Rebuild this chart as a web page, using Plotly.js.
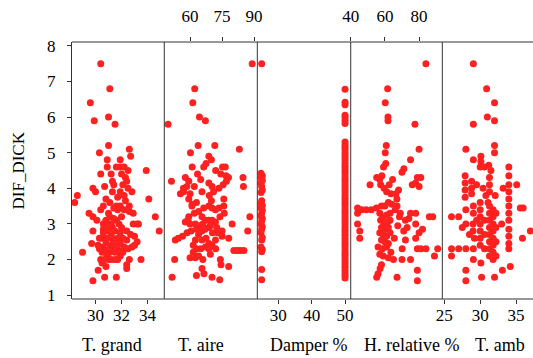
<!DOCTYPE html>
<html><head><meta charset="utf-8">
<script src="https://cdn.plot.ly/plotly-3.0.1.min.js"></script>
<style>html,body{margin:0;padding:0;background:#fff;}#chart{width:533px;height:358px;}</style>
</head><body><div id="chart"></div>
<script>
// DIF_DICK vs T. grand
var tgX = [30.4,31.1,29.6,29.9,31.0,31.5,31.0,32.6,30.3,32.7,30.9,31.9,30.9,31.6,31.9,32.2,32.5,33.9,30.4,31.2,32.0,32.3,31.3,32.4,32.1,30.7,29.8,32.5,30.0,31.3,31.9,32.8,32.2,28.6,34.1,30.8,31.1,28.4,30.6,31.6,31.9,32.6,30.4,31.7,32.2,32.6,29.5,31.0,32.9,34.6,29.8,31.1,31.4,30.1,31.2,31.8,32.9,33.2,33.3,30.9,31.3,30.6,29.8,31.0,31.5,32.4,34.9,30.6,31.2,32.7,33.0,30.5,30.9,31.3,31.7,32.1,33.2,29.7,30.8,31.4,31.9,33.0,30.2,30.6,31.1,31.6,32.2,32.8,30.3,30.8,31.3,31.8,32.5,29.0,30.5,31.1,32.1,30.4,30.7,31.0,31.2,31.5,31.7,32.6,33.5,30.5,30.8,30.2,32.4,32.4,30.7,31.6,29.8,31.4,31.7,32.3,31.4,30.8,31.6,32.0,31.9,30.3,32.4,31.5,31.9,30.9,32.0,30.6];
var tgY = [7.5,6.8,6.4,5.9,6.0,5.8,5.2,5.1,5.0,4.9,4.8,4.8,4.6,4.6,4.6,4.6,4.5,4.5,4.4,4.4,4.4,4.3,4.2,4.2,4.1,4.05,4.0,4.0,3.9,3.9,3.9,3.9,3.8,3.8,3.7,3.7,3.6,3.6,3.5,3.5,3.5,3.5,3.4,3.4,3.4,3.35,3.3,3.3,3.3,3.2,3.2,3.2,3.15,3.1,3.0,3.0,3.0,3.0,3.0,2.95,2.9,2.85,2.8,2.8,2.8,2.8,2.8,2.75,2.7,2.7,2.65,2.6,2.6,2.6,2.6,2.6,2.5,2.45,2.5,2.5,2.45,2.4,2.4,2.35,2.4,2.35,2.35,2.35,2.3,2.25,2.3,2.25,2.3,2.2,2.2,2.2,2.2,2.0,2.0,2.0,2.0,2.0,2.0,2.0,2.0,1.9,1.8,1.7,1.75,1.85,1.5,1.5,1.4,4.1,3.75,3.65,3.45,3.1,3.1,2.9,2.75,2.6,2.55,2.2,2.1,2.1,3.2,3.0];
// DIF_DICK vs T. aire
var taX = [89.1,62.2,61.3,64.4,67.2,49.7,63.8,71.6,83.1,60.2,68.8,70.0,61.0,66.4,67.5,75.2,76.5,74.4,76.8,78.0,84.8,51.3,57.8,59.4,65.0,56.9,58.5,62.0,68.8,70.3,73.5,75.5,77.0,85.0,55.5,57.0,60.0,65.6,69.0,71.0,75.8,59.4,61.0,63.0,70.0,75.8,60.9,66.4,68.8,70.3,71.9,73.5,59.4,62.0,64.0,65.6,67.2,68.8,70.3,71.9,74.0,76.0,88.0,57.8,59.0,62.5,64.5,66.0,69.5,72.5,79.7,87.0,58.6,60.5,63.0,65.5,67.0,68.8,70.5,73.0,75.0,53.1,54.5,56.5,62.5,65.6,68.8,71.9,75.0,78.1,61.5,63.0,65.0,67.2,68.8,70.3,72.0,80.5,82.0,83.5,85.2,60.0,62.5,64.0,66.0,74.2,74.5,52.8,65.6,66.5,78.1,51.6,63.0,70.3,73.9,61.5,69.5,67.5,64.0,60.0,63.5,72.0];
var taY = [7.5,6.8,6.4,6.0,5.9,5.8,5.2,5.2,5.1,5.0,4.9,4.8,4.6,4.6,4.7,4.6,4.6,4.4,4.35,4.3,4.3,4.2,4.3,4.2,4.25,4.0,4.05,4.05,4.15,4.05,4.0,4.1,4.2,4.05,3.85,3.9,3.85,3.9,3.8,3.9,3.7,3.7,3.55,3.6,3.65,3.5,3.5,3.45,3.5,3.45,3.4,3.45,3.2,3.3,3.35,3.2,3.1,3.1,3.1,3.05,3.2,3.3,3.2,3.05,3.1,3.0,2.95,3.0,2.95,2.9,3.0,2.8,2.75,2.8,2.85,2.8,2.85,2.9,2.75,2.75,2.8,2.55,2.6,2.65,2.55,2.55,2.45,2.55,2.65,2.6,2.4,2.3,2.3,2.35,2.3,2.4,2.3,2.25,2.25,2.25,2.25,2.05,2.05,2.1,2.0,2.0,1.85,2.0,1.75,1.6,1.8,1.5,1.55,1.5,1.43,2.2,2.15,2.6,2.7,3.0,4.4,4.5];
// DIF_DICK vs Damper %
var dmX = [25.0,24.8,25.2,24.8,25.2,24.8,25.0,25.2,24.8,25.0,24.8,25.2,24.8,25.2,25.0,24.8,25.2,25.0,24.8,25.2,25.0,24.8,25.2,25.0,24.8,25.2,25.0,25.0,25.0,
 50,50,50,50,50,50,50,50,50,50,50,50,50,50,50,50,50,50,50,50,50,50,50,50,50,50,50,50,50,50,50,50,50,50,50,50,50,50,50,50,50,50,50,50,50,50,50,50,50,50,50,50,50,50,50,50,50,50,50];
var dmY = [7.5,4.42,4.35,4.3,4.22,4.15,4.05,3.95,3.88,3.65,3.58,3.52,3.45,3.38,3.3,3.22,3.15,3.08,3.0,2.92,2.85,2.75,2.62,2.55,2.35,2.28,2.22,1.72,1.43,
 6.78,6.42,6.35,6.05,5.98,5.9,5.82,5.3,5.22,5.15,5.08,5.0,4.92,4.85,4.78,4.7,4.62,4.55,4.48,4.4,4.32,4.25,4.18,4.1,4.02,3.95,3.88,3.8,3.72,3.65,3.58,3.5,3.42,3.35,3.28,3.2,3.12,3.05,2.98,2.9,2.82,2.75,2.68,2.6,2.52,2.45,2.38,2.3,2.22,2.15,2.08,2.0,1.92,1.85,1.78,1.7,1.62,1.55,1.48];
// DIF_DICK vs H. relative %
var hrX = [84.0,61.6,60.2,61.8,61.8,77.6,60.8,80.0,60.2,75.0,59.2,60.5,71.1,70.0,58.2,55.2,57.0,79.0,81.0,76.0,78.0,80.0,51.3,57.5,59.5,62.5,64.5,61.0,63.5,66.5,68.0,67.0,44.0,46.5,49.0,52.0,55.0,58.0,60.0,62.0,64.0,67.1,69.0,44.0,75.0,78.0,86.0,88.0,57.0,59.0,61.0,63.0,57.5,59.5,61.5,63.0,72.0,74.0,78.0,44.0,58.0,60.0,62.0,57.0,59.0,61.0,63.0,45.3,45.3,82.0,80.0,71.0,72.0,78.0,58.0,60.0,62.0,56.0,58.5,61.0,63.5,90.9,89.0,79.0,81.0,84.0,70.1,57.0,59.0,62.0,65.0,70.0,75.0,57.2,58.0,55.2,56.0,67.1,79.0,79.0,66.0,68.5,73.0,67.5,65.5];
var hrY = [7.5,6.8,6.4,6.0,5.9,5.8,5.2,5.1,5.0,4.8,4.6,4.7,4.55,4.45,4.35,4.3,4.25,4.3,4.3,4.1,4.15,4.05,4.1,4.1,4.0,4.1,4.25,3.9,3.85,3.85,3.95,3.7,3.45,3.4,3.4,3.4,3.45,3.5,3.5,3.6,3.55,3.5,3.3,3.3,3.3,3.3,3.2,3.2,3.3,3.2,3.25,3.3,3.1,3.0,3.05,3.1,3.1,3.15,3.0,3.0,2.9,2.85,2.9,2.75,2.7,2.65,2.75,2.8,2.6,2.85,2.75,2.8,2.55,2.6,2.55,2.5,2.45,2.35,2.3,2.35,2.2,2.3,2.1,2.3,2.3,2.3,2.3,2.15,2.1,2.05,2.0,2.0,2.0,1.75,1.85,1.5,1.6,1.5,1.7,1.4,3.4,3.2,2.9,2.95,2.6];
// DIF_DICK vs T. amb
var amX = [29.05,30.9,32.0,31.0,32.0,29.05,28.0,32.0,32.0,29.05,30.1,30.1,34.0,30.0,30.6,31.2,31.5,34.0,27.9,27.9,27.9,28.8,28.8,28.8,31.3,31.3,31.3,35.1,33.2,32.1,31.1,34.0,34.0,34.0,34.0,34.0,34.0,34.0,34.0,34.0,34.0,29.05,29.05,28.0,26.0,27.0,35.6,36.0,37.0,35.9,30.0,30.0,30.0,30.0,30.0,30.0,30.0,31.3,31.3,31.3,31.3,31.3,31.3,31.3,31.3,31.8,31.8,31.8,31.8,31.8,31.8,31.8,31.8,32.2,32.2,32.2,32.2,30.6,30.6,30.6,29.0,29.0,29.2,28.0,28.5,29.5,26.0,26.0,27.0,28.0,29.05,29.05,30.1,28.0,28.0,30.2,32.0,33.1,34.2,33.0,30.4,30.8,29.5,27.9,27.5];
var amY = [7.5,6.8,6.4,6.0,5.9,5.8,5.1,5.2,5.0,4.8,4.9,4.75,4.6,4.6,4.6,4.65,4.5,4.35,4.35,4.15,3.95,4.2,4.0,3.85,4.3,4.1,3.9,4.1,4.0,3.8,3.6,4.1,3.9,3.7,3.5,3.3,3.1,2.85,2.65,2.45,2.3,3.5,3.3,3.4,3.2,3.2,3.45,3.45,2.8,2.6,3.6,3.4,3.2,3.0,2.8,2.6,2.4,3.5,3.3,3.1,2.9,2.7,2.5,2.3,2.1,3.4,3.2,3.0,2.8,2.6,2.4,2.2,2.0,3.3,2.9,2.5,2.1,3.1,2.7,2.3,3.0,2.8,2.6,3.0,2.7,3.1,2.3,2.1,2.3,2.3,2.3,2.0,1.9,1.7,1.4,1.5,1.5,1.7,1.8,3.0,4.0,3.8,4.1,3.75,2.9];

var xTitles = ['T. grand','T. aire','Damper %','H. relative %','T. amb'];
var yTitle = 'DIF_DICK';

var red = '#ff2020';
var serif = 'Liberation Serif';
var mk = {color: red, size: 7, line: {width: 0}};
function tr(x, y, ax) { return {x: x, y: y, xaxis: ax, yaxis: 'y', type: 'scatter', mode: 'markers', marker: mk, hoverinfo: 'skip', showlegend: false, cliponaxis: false}; }
var data = [tr(tgX, tgY, 'x'), tr(taX, taY, 'x2'), tr(dmX, dmY, 'x3'), tr(hrX, hrY, 'x4'), tr(amX, amY, 'x5')];

var b = [0, 0.2002, 0.402, 0.6046, 0.8033, 1];
var tickF = {family: serif, size: 17, color: '#000'};
function xa(i, range, side, vals) {
  return {domain: [b[i], b[i+1]], range: range, anchor: 'y', side: side, tickmode: 'array', tickvals: vals,
    ticks: 'outside', ticklen: 4, tickcolor: '#333', tickwidth: 1, showgrid: false, zeroline: false, showline: false,
    tickfont: tickF, fixedrange: true, ticklabelstandoff: side === 'top' ? 8 : -3};
}
var shapes = [];
var ln = {color: '#333', width: 1};
shapes.push({type: 'line', xref: 'paper', yref: 'paper', x0: 0, x1: 1, y0: 1, y1: 1, line: ln});
shapes.push({type: 'line', xref: 'paper', yref: 'paper', x0: 0, x1: 1, y0: 0, y1: 0, line: ln});
for (var i = 1; i < 5; i++) shapes.push({type: 'line', xref: 'paper', yref: 'paper', x0: b[i], x1: b[i], y0: 0, y1: 1, line: ln});

var titleX = [0.0868, 0.2798, 0.512, 0.7354, 0.9284];
var ann = xTitles.map(function (t, i) {
  return {text: t, xref: 'paper', yref: 'paper', x: titleX[i], y: -0.179, xanchor: 'center', yanchor: 'middle', showarrow: false, font: {family: serif, size: 18, color: '#000'}};
});
ann.push({text: yTitle, xref: 'paper', yref: 'paper', x: -0.115, y: 0.5, textangle: -90, xanchor: 'center', yanchor: 'middle', showarrow: false, font: {family: serif, size: 17, color: '#000'}});

var layout = {
  width: 533, height: 358, margin: {l: 72, r: 0, t: 42, b: 59, pad: 0},
  paper_bgcolor: '#fff', plot_bgcolor: '#fff',
  xaxis: xa(0, [28.19, 35.29], 'bottom', [30, 32, 34]),
  xaxis2: xa(1, [47.95, 91.5], 'top', [60, 75, 90]),
  xaxis3: xa(2, [23.7, 51.7], 'bottom', [30, 40, 50]),
  xaxis4: xa(3, [40, 93.6], 'top', [40, 60, 80]),
  xaxis5: xa(4, [24.72, 37.37], 'bottom', [25, 30, 35]),
  yaxis: {domain: [0, 1], range: [0.89, 8.11], anchor: 'x', tickmode: 'array', tickvals: [1,2,3,4,5,6,7,8],
    ticks: 'outside', ticklen: 4, tickcolor: '#333', showline: true, linecolor: '#333', linewidth: 1,
    showgrid: false, zeroline: false, tickfont: tickF, fixedrange: true, ticklabelstandoff: 8},
  shapes: shapes, annotations: ann
};
Plotly.newPlot('chart', data, layout, {staticPlot: true, displayModeBar: false});
</script></body></html>
